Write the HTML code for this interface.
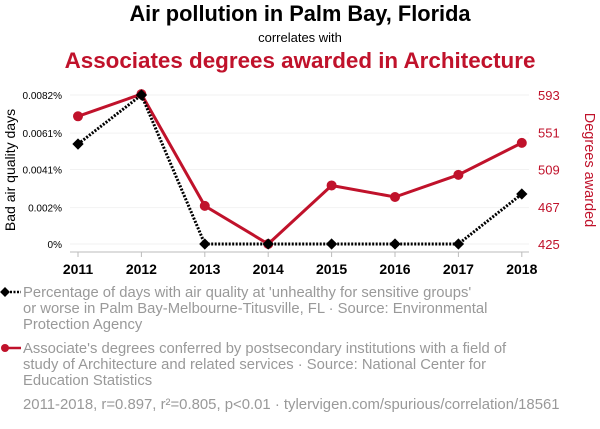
<!DOCTYPE html>
<html><head><meta charset="utf-8"><style>
body{margin:0;background:#fff;width:600px;height:424px;overflow:hidden;font-family:"Liberation Sans",sans-serif}
svg text{font-family:"Liberation Sans",sans-serif}
</style></head><body>
<svg id="c" width="600" height="424">
<text x="300" y="21" text-anchor="middle" font-size="21.8" font-weight="bold" fill="#000">Air pollution in Palm Bay, Florida</text>
<text x="300" y="42" text-anchor="middle" font-size="13" fill="#000">correlates with</text>
<text x="300" y="68" text-anchor="middle" font-size="22.4" font-weight="bold" fill="#c0122b">Associates degrees awarded in Architecture</text>
<g id="grid"></g>
<line x1="70" y1="252" x2="529" y2="252" stroke="#bbb"/>
<text transform="translate(15,170) rotate(-90)" text-anchor="middle" font-size="14" fill="#000">Bad air quality days</text>
<text transform="translate(585,170) rotate(90)" text-anchor="middle" font-size="14.5" fill="#c0122b">Degrees awarded</text>
<g id="marks"></g>
<g>
<line x1="3" y1="292" x2="21" y2="292" stroke="#000" stroke-width="2.5" stroke-dasharray="2,1.5"/>
<rect x="1.5" y="288.5" width="7" height="7" transform="rotate(45 5 292)" fill="#000"/>
<text font-size="14.8" fill="#999"><tspan x="23" y="297">Percentage of days with air quality at 'unhealthy for sensitive groups'</tspan><tspan x="23" y="313">or worse in Palm Bay-Melbourne-Titusville, FL · Source: Environmental</tspan><tspan x="23" y="329">Protection Agency</tspan></text>
</g>
<g>
<line x1="4" y1="348" x2="21" y2="348" stroke="#c0122b" stroke-width="2.5"/>
<circle cx="5" cy="348" r="4" fill="#c0122b"/>
<text font-size="14.8" fill="#999"><tspan x="23" y="353">Associate's degrees conferred by postsecondary institutions with a field of</tspan><tspan x="23" y="369">study of Architecture and related services · Source: National Center for</tspan><tspan x="23" y="385">Education Statistics</tspan></text>
</g>
<text x="23" y="409" font-size="14.9" fill="#999">2011-2018, r=0.897, r²=0.805, p&lt;0.01 · tylervigen.com/spurious/correlation/18561</text>
</svg>
<script>
const years=[2011,2012,2013,2014,2015,2016,2017,2018];
const airValues=[0.0055,0.0082,0,0,0,0,0,0.00275];
const degreeValues=[569,594,468,425,491,478,503,539];
const leftTicks=[0,0.002,0.0041,0.0061,0.0082];
const leftTickLabels=["0%","0.002%","0.0041%","0.0061%","0.0082%"];
const rightTicks=[425,467,509,551,593];
const NS="http://www.w3.org/2000/svg";
const x=i=>78+i*63.4;
const yL=v=>244-v/0.0082*149;
const yR=v=>244-(v-425)/168*149;
function mk(t,a,p){const e=document.createElementNS(NS,t);for(const k in a)e.setAttribute(k,a[k]);p.appendChild(e);return e;}
const g=document.getElementById('grid'),m=document.getElementById('marks');
leftTicks.forEach((v,i)=>{
 const l=mk('line',{x1:70,x2:529,y1:yL(v),y2:yL(v),stroke:'#f2f2f2'},g);
 
 
 const t=mk('text',{x:62,y:yL(v)+4,'text-anchor':'end','font-size':10,fill:'#000'},g);
 t.textContent=leftTickLabels[i];
 
 
});
rightTicks.forEach(v=>{
 const t=mk('text',{x:538,y:yR(v)+5,'font-size':13,fill:'#c0122b'},g);
 t.textContent=v;
 
 
});
years.forEach((yr,i)=>{
 mk('line',{x1:x(i),x2:x(i),y1:252,y2:257,stroke:'#bbb'},g);
 const t=mk('text',{x:x(i),y:274,'text-anchor':'middle','font-size':14,'font-weight':'bold',fill:'#000'},g);
 t.textContent=yr;
 
 
});
const rl=mk('polyline',{points:degreeValues.map((v,i)=>x(i)+','+yR(v)).join(' '),fill:'none',stroke:'#c0122b','stroke-width':3},m);


const bl=mk('polyline',{points:airValues.map((v,i)=>x(i)+','+yL(v)).join(' '),fill:'none',stroke:'#000','stroke-width':3,'stroke-dasharray':'2,1.5'},m);


degreeValues.forEach((v,i)=>{
 const c=mk('circle',{cx:x(i),cy:yR(v),r:5,fill:'#c0122b'},m);
 
 
});
airValues.forEach((v,i)=>{
 const r=mk('rect',{x:x(i)-4,y:yL(v)-4,width:8,height:8,fill:'#000',transform:`rotate(45 ${x(i)} ${yL(v)})`},m);
 
 
});
</script>
</body></html>
